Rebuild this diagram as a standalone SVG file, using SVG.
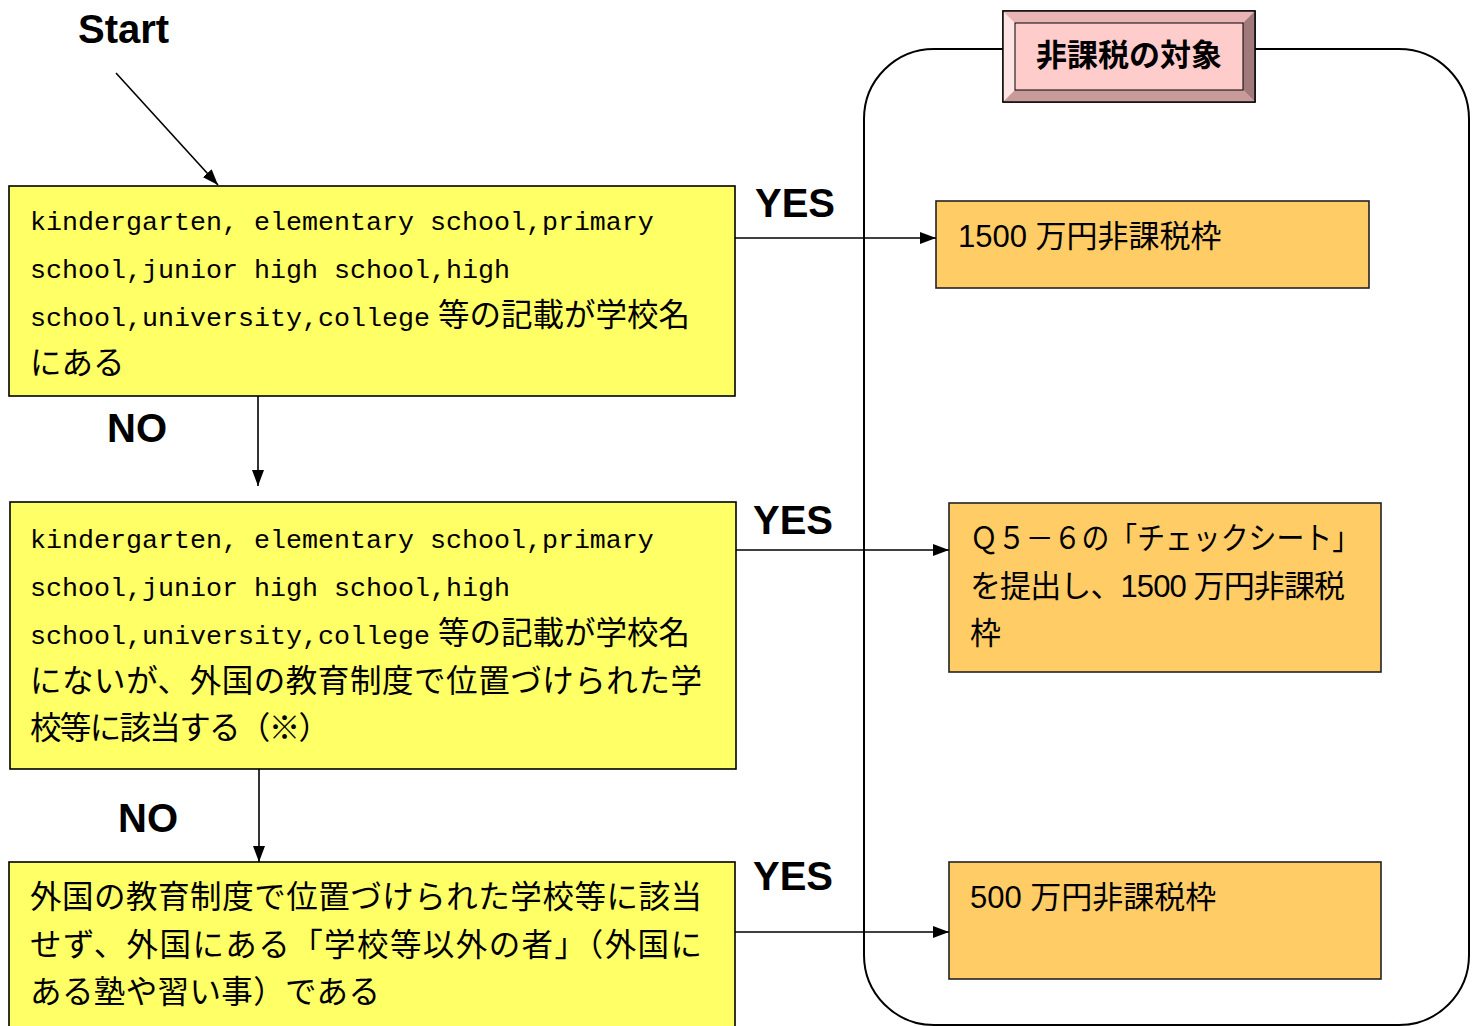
<svg xmlns="http://www.w3.org/2000/svg" width="1472" height="1026" viewBox="0 0 1472 1026">
<style>
.yb{fill:#ffff66;stroke:#000;stroke-width:1.6}
.ob{fill:#ffcc66;stroke:#222;stroke-width:1.6}
.lbl{font-family:"Liberation Sans",Arial,sans-serif;font-weight:bold;font-size:40px;fill:#000}
.lat{font-family:"Liberation Mono","Noto Sans CJK JP",monospace;font-size:26.67px}
.jp{font-family:"Noto Sans CJK JP",sans-serif;font-size:31.5px;fill:#000}
.yt{fill:#000}
.ot{font-family:"Liberation Sans","Noto Sans CJK JP",sans-serif;font-size:31px;fill:#000}
.ln{stroke:#000;stroke-width:1.6;fill:none}
</style>
<defs>
<marker id="ah" viewBox="0 0 16 12" refX="16" refY="6" markerWidth="16" markerHeight="12" markerUnits="userSpaceOnUse" orient="auto">
<path d="M0,0 L16,6 L0,12 z" fill="#000"/>
</marker>
</defs>

<g id="frame">
<rect x="864" y="49" width="605" height="976" rx="70" ry="70" fill="none" stroke="#000" stroke-width="2"/>
</g>

<g id="header">
<rect x="1003" y="11" width="252" height="91" fill="#ffcccc" stroke="#000" stroke-width="1.4"/>
<polygon points="1003,11 1015,23 1015,90 1003,102" fill="#ffe4e4"/>
<polygon points="1003,11 1255,11 1243,23 1015,23" fill="#e8b4b4"/>
<polygon points="1255,11 1255,102 1243,90 1243,23" fill="#a07a7a"/>
<polygon points="1003,102 1015,90 1243,90 1255,102" fill="#c89a9a"/>
<rect x="1015" y="23" width="228" height="67" fill="#ffcccc" stroke="#000" stroke-width="1"/>
<rect x="1003" y="11" width="252" height="91" fill="none" stroke="#000" stroke-width="1.4"/>
<text x="1129" y="66" text-anchor="middle" font-family="Noto Sans CJK JP, sans-serif" font-weight="bold" font-size="31" fill="#000">非課税の対象</text>
</g>

<g id="start">
<text class="lbl" x="78" y="43">Start</text>
</g>

<g id="q1">
<rect class="yb" x="9" y="186" width="726" height="210"/>
<text class="yt" x="30" y="230"><tspan class="lat">kindergarten, elementary school,primary</tspan></text>
<text class="yt" x="30" y="278"><tspan class="lat">school,junior high school,high</tspan></text>
<text class="yt" x="30" y="326"><tspan class="lat">school,university,college</tspan><tspan class="jp" dx="8">等の記載が学校名</tspan></text>
<text class="jp" x="30" y="374">にある</text>
</g>

<g id="q2">
<rect class="yb" x="10" y="502" width="726" height="267"/>
<text class="yt" x="30" y="548"><tspan class="lat">kindergarten, elementary school,primary</tspan></text>
<text class="yt" x="30" y="596"><tspan class="lat">school,junior high school,high</tspan></text>
<text class="yt" x="30" y="644"><tspan class="lat">school,university,college</tspan><tspan class="jp" dx="8">等の記載が学校名</tspan></text>
<text class="jp" x="30" y="692" textLength="672" lengthAdjust="spacing">にないが、外国の教育制度で位置づけられた学</text>
<text class="jp" x="30" y="739" textLength="300" lengthAdjust="spacing">校等に該当する（※）</text>
</g>

<g id="q3">
<rect class="yb" x="9" y="862" width="726" height="170"/>
<text class="jp" x="30" y="908" textLength="672" lengthAdjust="spacing">外国の教育制度で位置づけられた学校等に該当</text>
<text class="jp" x="30" y="956" textLength="672" lengthAdjust="spacing">せず、外国にある「学校等以外の者」（外国に</text>
<text class="jp" x="30" y="1003" textLength="350" lengthAdjust="spacing">ある塾や習い事）である</text>
</g>

<g id="r1">
<rect class="ob" x="936" y="201" width="433" height="87"/>
<text class="ot" x="958" y="247">1500 万円非課税枠</text>
</g>

<g id="r2">
<rect class="ob" x="949" y="503" width="432" height="169"/>
<text class="ot" x="970" y="549" textLength="390" lengthAdjust="spacingAndGlyphs">Ｑ５－６の「チェックシート」</text>
<text class="ot" x="970" y="597" textLength="375" lengthAdjust="spacing">を提出し、1500 万円非課税</text>
<text class="ot" x="970" y="644">枠</text>
</g>

<g id="r3">
<rect class="ob" x="949" y="862" width="432" height="117"/>
<text class="ot" x="970" y="908">500 万円非課税枠</text>
</g>

<g id="connectors">
<line class="ln" x1="116" y1="73" x2="218" y2="185" marker-end="url(#ah)"/>
<line class="ln" x1="258" y1="396" x2="258" y2="486" marker-end="url(#ah)"/>
<line class="ln" x1="259" y1="769" x2="259" y2="862" marker-end="url(#ah)"/>
<line class="ln" x1="735" y1="238" x2="936" y2="238" marker-end="url(#ah)"/>
<line class="ln" x1="736" y1="550" x2="949" y2="550" marker-end="url(#ah)"/>
<line class="ln" x1="735" y1="932" x2="949" y2="932" marker-end="url(#ah)"/>
</g>

<g id="labels">
<text class="lbl" x="755" y="217">YES</text>
<text class="lbl" x="107" y="442">NO</text>
<text class="lbl" x="753" y="534">YES</text>
<text class="lbl" x="118" y="832">NO</text>
<text class="lbl" x="753" y="890">YES</text>
</g>
</svg>
